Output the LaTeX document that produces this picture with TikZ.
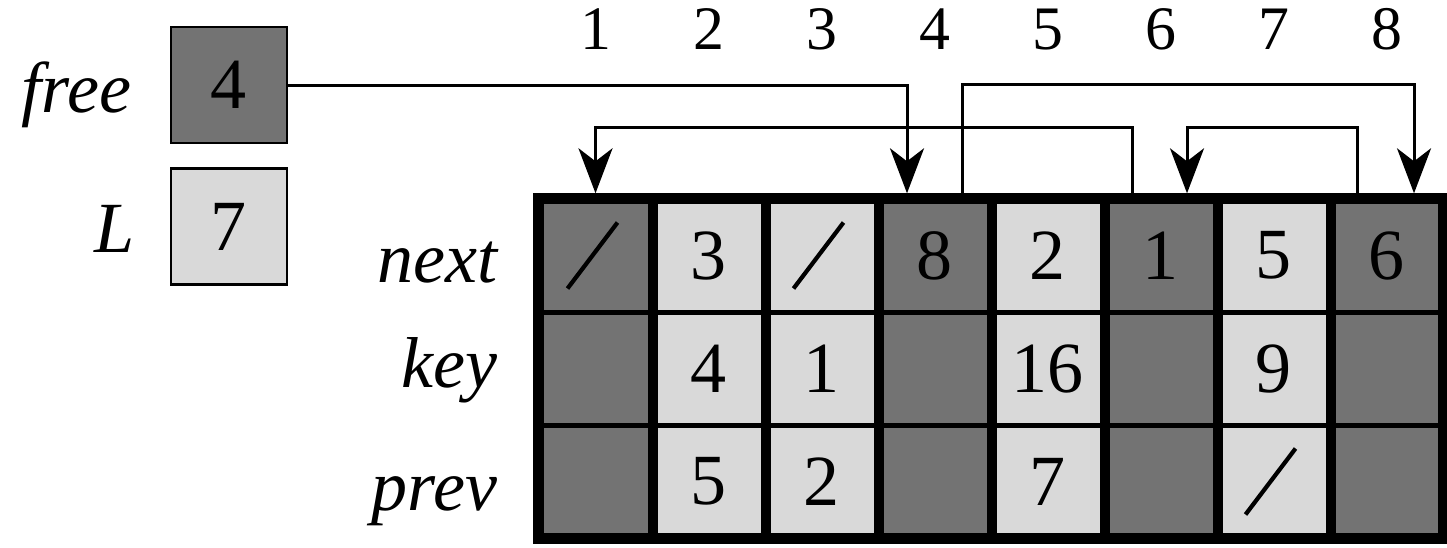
\documentclass[tikz,border=0pt]{standalone}
\usepackage{fontspec}
\setmainfont{Liberation Serif}
\usetikzlibrary{arrows.meta}

\definecolor{cellDark}{gray}{0.45}
\definecolor{cellLight}{gray}{0.85}

\tikzset{
  cell/.style={minimum width=1.13cm, minimum height=1.13cm, inner sep=0pt,
    font=\fontsize{20.5}{24}\selectfont},
  varbox/.style={cell, draw, line width=0.7pt, minimum size=1.16cm},
  fieldname/.style={anchor=base east, inner sep=0pt,
    font=\fontsize{20.5}{24}\selectfont\itshape},
  idx/.style={anchor=base, inner sep=0pt, font=\fontsize{17.6}{21}\selectfont},
  ptr/.style={line width=0.85pt,
    -{Stealth[length=0.45cm, width=0.34cm, inset=0.13cm]}},
  nilline/.style={line width=1.2pt},
  rowline/.style={line width=0.045cm},
  colline/.style={line width=0.1cm},
  frame/.style={line width=0.11cm},
}

\begin{document}
\begin{tikzpicture}
  \useasboundingbox (0,0) rectangle (14.47,5.47);
  % \draw[help lines, gray!50, very thin] (0,0) grid (14,5);

  % the two variables
  \node[varbox, fill=cellDark] (free) at (2.29,4.62) {4};
  \node[varbox, fill=cellLight] (L) at (2.29,3.205) {7};
  \node[fieldname] (freelbl) at (1.32,4.35) {free};
  \node[fieldname] (Llbl) at (1.35,2.95) {L};

  % the array, one column per index
  \foreach \c/\nx/\ky/\pv/\shade in {1/{}/{}/{}/cellDark, 2/3/4/5/cellLight,
      3/{}/1/2/cellLight, 4/8/{}/{}/cellDark, 5/2/16/7/cellLight,
      6/1/{}/{}/cellDark, 7/5/9/{}/cellLight, 8/6/{}/{}/cellDark} {
    \node[cell, fill=\shade] (n\c) at ({5.39+1.13*(\c-0.5)},2.915) {\nx};
    \node[cell, fill=\shade] (k\c) at ({5.39+1.13*(\c-0.5)},1.785) {\ky};
    \node[cell, fill=\shade] (p\c) at ({5.39+1.13*(\c-0.5)},0.655) {\pv};
    \node[idx] (i\c) at ({5.39+1.13*(\c-0.5)},4.98) {\c};
  }

  \node[fieldname] (nextlbl) at (4.98,2.65) {next};
  \node[fieldname] (keylbl) at (4.98,1.60) {key};
  \node[fieldname] (prevlbl) at (4.98,0.37) {prev};

  % nil entries
  \foreach \n in {n1,n3,p7}
    \draw[nilline] ([shift={(-0.28,-0.33)}]\n.center) -- ([shift={(0.22,0.33)}]\n.center);

  % free list pointers
  \draw[ptr] (free.east) -| ([xshift=-0.275cm,yshift=0.05cm]n4.north);
  \draw[ptr] ([xshift=0.275cm]n4.north) -- ++(0,1.14) -| ([xshift=0.275cm,yshift=0.05cm]n8.north);
  \draw[ptr] ([xshift=-0.295cm]n8.north) -- ++(0,0.71) -| ([xshift=0.265cm,yshift=0.05cm]n6.north);
  \draw[ptr] ([xshift=-0.285cm]n6.north) -- ++(0,0.71) -| ([yshift=0.05cm]n1.north);

  % grid lines
  \draw[rowline] (n1.south west) -- (n8.south east);
  \draw[rowline] (k1.south west) -- (k8.south east);
  \foreach \c in {1,...,7}
    \draw[colline] (n\c.north east) -- (p\c.south east);
  \draw[frame] (n1.north west) rectangle (p8.south east);
\end{tikzpicture}
\end{document}
